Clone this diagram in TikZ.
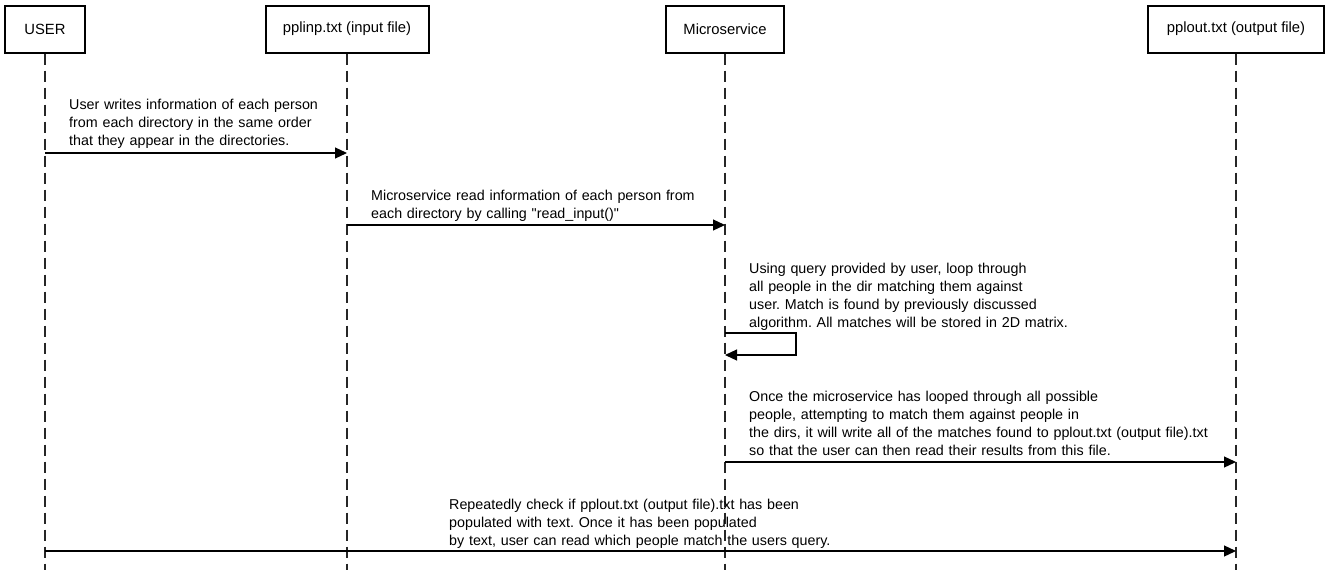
\documentclass[tikz,border=0pt]{standalone}
\usepackage{fontspec}
\setmainfont{Liberation Sans}
\newfontfamily\plainq{Liberation Sans}
\usetikzlibrary{arrows.meta}
\frenchspacing
\begin{document}
\begin{tikzpicture}[x=1pt,y=-1pt,
  actor/.style={draw,line width=2pt,minimum height=47pt,inner sep=0pt,font=\fontsize{14.8}{17}\selectfont},
  life/.style={line width=1.3pt,dash pattern=on 11pt off 6pt,black!85},
  msg/.style={line width=1.2pt,-{Triangle[length=12pt,width=11pt]}},
  lbl/.style={anchor=base west,inner sep=0pt,align=left,text width=560pt,font=\fontsize{14.3}{18}\selectfont}]
\useasboundingbox (0,0) rectangle (1330,570);
% actors
\node[actor,minimum width=80pt] (user) at (45,29) {USER};
\node[actor,minimum width=163pt] (inp) at (347,29) {pplinp.txt (input file)};
\node[actor,minimum width=118pt] (ms) at (725,29) {Microservice};
\node[actor,minimum width=176pt] (out) at (1236,29) {pplout.txt (output file)};
% lifeline ends
\coordinate (userE) at (45,570);
\coordinate (inpE) at (347,570);
\coordinate (msE) at (725,570);
\coordinate (outE) at (1236,570);
\draw[life] (user.south) -- (userE);
\draw[life] (inp.south) -- (inpE);
\draw[life] (ms.south) -- (msE);
\draw[life] (out.south) -- (outE);
% message points
\coordinate (m1a) at (45,153);
\coordinate (m1b) at (347,153);
\coordinate (m2a) at (347,225);
\coordinate (m2b) at (725,225);
\coordinate (m3a) at (725,333);
\coordinate (m3b) at (796,333);
\coordinate (m3c) at (796,355);
\coordinate (m3d) at (725,355);
\coordinate (m4a) at (725,462);
\coordinate (m4b) at (1236,462);
\coordinate (m5a) at (45,551);
\coordinate (m5b) at (1236,551);
% labels
\node[lbl] (t1) at (69,109) {User writes information of each person\\from each directory in the same order\\that they appear in the directories.};
\node[lbl] (t2) at (371,200) {Microservice read information of each person from\\each directory by calling {\plainq"}read\_input(){\plainq"}};
\node[lbl] (t3) at (749,273) {Using query provided by user, loop through\\all people in the dir matching them against\\user. Match is found by previously discussed\\algorithm. All matches will be stored in 2D matrix.};
\node[lbl] (t4) at (749,401) {Once the microservice has looped through all possible\\people, attempting to match them against people in\\the dirs, it will write all of the matches found to pplout.txt (output file).txt\\so that the user can then read their results from this file.};
\node[lbl] (t5) at (449,509) {Repeatedly check if pplout.txt (output file).txt has been\\populated with text. Once it has been populated\\by text, user can read which people match the users query.};
% arrows
\draw[msg] (m1a) -- (m1b);
\draw[msg] (m2a) -- (m2b);
\draw[msg] (m3a) -- (m3b) -- (m3c) -- (m3d);
\draw[msg] (m4a) -- (m4b);
\draw[msg] (m5a) -- (m5b);
\end{tikzpicture}
\end{document}
